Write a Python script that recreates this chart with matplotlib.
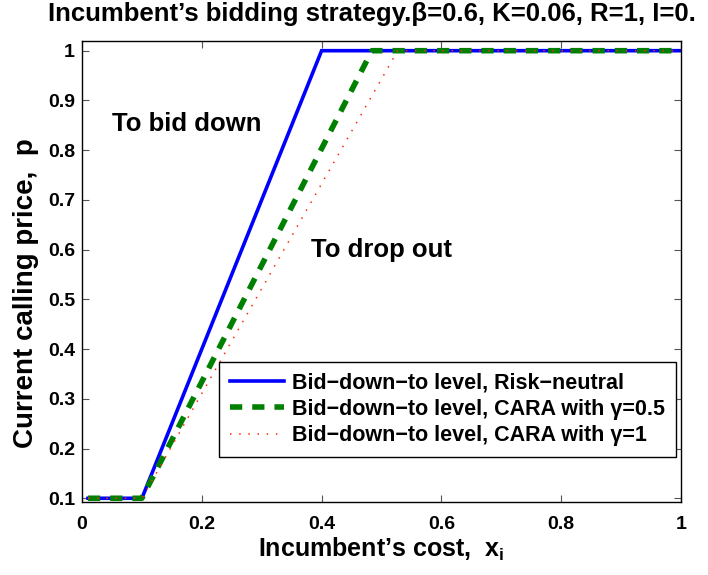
import matplotlib
matplotlib.use("Agg")
import matplotlib.pyplot as plt
import numpy as np

plt.rcParams['font.family'] = ['Liberation Sans', 'DejaVu Sans']
plt.rcParams['font.weight'] = 'bold'
plt.rcParams['mathtext.fontset'] = 'custom'
plt.rcParams['mathtext.rm'] = 'Liberation Sans:bold'
plt.rcParams['mathtext.it'] = 'Liberation Sans:bold'
plt.rcParams['mathtext.bf'] = 'Liberation Sans:bold'
plt.rcParams['mathtext.sf'] = 'Liberation Sans:bold'

# Data
x_rn = [0.01, 0.10, 0.40, 1.00]
p_rn = [0.10, 0.10, 1.00, 1.00]
x_g05 = [0.01, 0.10, 0.484, 1.00]
p_g05 = [0.10, 0.10, 1.00, 1.00]
x_g1 = [0.01, 0.10, 0.527, 1.00]
p_g1 = [0.10, 0.10, 1.00, 1.00]

labels = ['Bid\u2212down\u2212to level, Risk\u2212neutral',
          'Bid\u2212down\u2212to level, CARA with \u03b3=0.5',
          'Bid\u2212down\u2212to level, CARA with \u03b3=1']

xticks = [0, 0.2, 0.4, 0.6, 0.8, 1]
xtick_labels = ['0', '0.2', '0.4', '0.6', '0.8', '1']
yticks = [0.1, 0.2, 0.3, 0.4, 0.5, 0.6, 0.7, 0.8, 0.9, 1]
ytick_labels = ['0.1', '0.2', '0.3', '0.4', '0.5', '0.6', '0.7', '0.8', '0.9', '1']

W, H = 708, 575
fig = plt.figure(figsize=(W/100, H/100), dpi=100)
ax = fig.add_axes([82/W, 1 - 502/H, (681-82)/W, (502-41)/H])

ax.plot(x_rn, p_rn, color='#0000ff', lw=2.6, label=labels[0], solid_joinstyle='miter')
ax.plot(x_g05, p_g05, color='#008000', lw=4, ls=(0, (2.2, 1.8)), label=labels[1])
ax.plot(x_g1, p_g1, color='#ff2a00', lw=1.1, ls=(0, (1, 5)), label=labels[2])

ax.set_xlim(0, 1)
ax.set_ylim(0.0925, 1.0195)
ax.set_xticks(xticks)
ax.set_xticklabels(xtick_labels)
ax.set_yticks(yticks)
ax.set_yticklabels(ytick_labels)
ax.tick_params(axis='both', direction='in', top=True, right=True, length=5, width=0.8,
               labelsize=14, color='#555555')
ax.tick_params(axis='x', pad=10)
ax.tick_params(axis='y', pad=5)
for lab in ax.get_xticklabels() + ax.get_yticklabels():
    lab.set_fontweight('bold')
for s in ax.spines.values():
    s.set_linewidth(1.0)

ax.set_xlabel("Incumbent\u2019s cost,  x$_{\\mathregular{i}}$", fontsize=18, fontweight='bold', labelpad=2)
ax.set_ylabel("Current calling price,  p", fontsize=20, fontweight='bold')
ax.yaxis.set_label_coords(-0.072, 0.453)
fig.text(372/W, 1 - 21/H, "Incumbent\u2019s bidding strategy.\u03b2=0.6, K=0.06, R=1, I=0.",
         fontsize=18.5, fontweight='bold', ha='center', va='baseline')

ax.text(0.05, 0.853, "To bid down", fontsize=18.5, fontweight='bold', va='center', ha='left')
ax.text(0.383, 0.6, "To drop out", fontsize=18.5, fontweight='bold', va='center', ha='left')

leg = ax.legend(loc='lower right', bbox_to_anchor=(676/W, 1-457/H), bbox_transform=fig.transFigure,
                prop={'weight': 'bold', 'size': 15.5}, frameon=True, fancybox=False,
                handlelength=2.5, borderpad=0.5, labelspacing=0.25, handletextpad=0.4,
                borderaxespad=0)
leg.get_frame().set_edgecolor('black')
leg.get_frame().set_linewidth(1.0)
leg.get_frame().set_alpha(1)

fig.savefig('out.png', dpi=100)
